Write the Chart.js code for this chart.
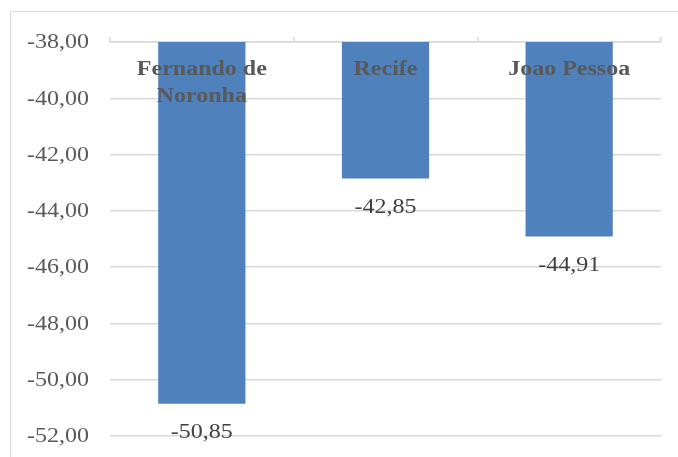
<!DOCTYPE html>
<html>
<head>
<meta charset="utf-8">
<script src="https://cdn.jsdelivr.net/npm/chart.js@4/dist/chart.umd.min.js"></script>
<style>
  html, body { margin: 0; padding: 0; background: #fff; overflow: hidden; }
  #wrap { position: relative; width: 678px; height: 457px; }
  #frame { position: absolute; left: 10px; top: 11px; width: 720px; height: 520px;
           border: 1.5px solid #d9d9d9; box-sizing: border-box; }
  canvas { position: absolute; left: 0; top: 0; }
</style>
</head>
<body>
<div id="wrap">
  <div id="frame"></div>
  <canvas id="chart" width="678" height="457"></canvas>
</div>
<script>
// Chart data
const cities = [['Fernando de', 'Noronha'], ['Recife'], ['Joao Pessoa']];
const values = [-50.85, -42.85, -44.91];
const yMin = -52;
const yMax = -38;
const yStep = 2;

// Text in the reference is a bit wider than tall
const stretch = 1.2;

function fmt(v) {
    return v.toFixed(2).replace('.', ',');
}

function drawStretched(ctx, text, x, y, align) {
    ctx.save();
    ctx.translate(x, y);
    ctx.scale(stretch, 1);
    ctx.textAlign = align;
    ctx.textBaseline = 'middle';
    ctx.fillText(text, 0, 0);
    ctx.restore();
}

// Draw tick labels, category labels and value labels
const textPlugin = {
    id: 'textPlugin',
    afterDraw(chart) {
        const ctx = chart.ctx;
        const xs = chart.scales.x;
        const ys = chart.scales.y;

        // y tick labels
        ctx.font = '20px "Liberation Serif", "Times New Roman", serif';
        ctx.fillStyle = '#595959';
        ys.ticks.forEach(t => {
            drawStretched(ctx, fmt(t.value), 89, ys.getPixelForValue(t.value) + 1, 'right');
        });

        // category names inside the top of the plot
        ctx.font = 'bold 20px "Liberation Serif", "Times New Roman", serif';
        ctx.fillStyle = '#595959';
        cities.forEach((lines, i) => {
            const x = xs.getPixelForValue(i);
            lines.forEach((line, j) => {
                drawStretched(ctx, line, x, chart.chartArea.top + 28 + j * 27, 'center');
            });
        });

        // value labels under the bar ends
        ctx.font = '20px "Liberation Serif", "Times New Roman", serif';
        ctx.fillStyle = '#404040';
        const meta = chart.getDatasetMeta(0);
        meta.data.forEach((bar, i) => {
            drawStretched(ctx, fmt(values[i]), bar.x, bar.y + 29, 'center');
        });
    }
};

const ctx = document.getElementById('chart').getContext('2d');
new Chart(ctx, {
    type: 'bar',
    data: {
        labels: cities.map(c => c.join(' ')),
        datasets: [{
            data: values,
            backgroundColor: '#4f81bd',
            borderWidth: 0,
            categoryPercentage: 1,
            barPercentage: 0.475
        }]
    },
    options: {
        responsive: false,
        animation: false,
        events: [],
        layout: {
            padding: { left: 0, top: 37, right: 17, bottom: 21 }
        },
        plugins: {
            legend: { display: false },
            tooltip: { enabled: false }
        },
        scales: {
            x: {
                position: 'top',
                grid: {
                    display: true,
                    offset: true,
                    drawOnChartArea: false,
                    drawTicks: true,
                    tickLength: 5,
                    color: '#d9d9d9',
                    lineWidth: 1.5
                },
                border: { display: true, color: '#d9d9d9', width: 1.5 },
                ticks: { display: false },
                afterFit(scale) { scale.height = 5; }
            },
            y: {
                min: yMin,
                max: yMax,
                ticks: { display: false, stepSize: yStep },
                grid: {
                    color: '#d9d9d9',
                    lineWidth: 1.5,
                    drawTicks: false
                },
                border: { display: false },
                afterFit(scale) { scale.width = 110; }
            }
        }
    },
    plugins: [textPlugin]
});
</script>
</body>
</html>
